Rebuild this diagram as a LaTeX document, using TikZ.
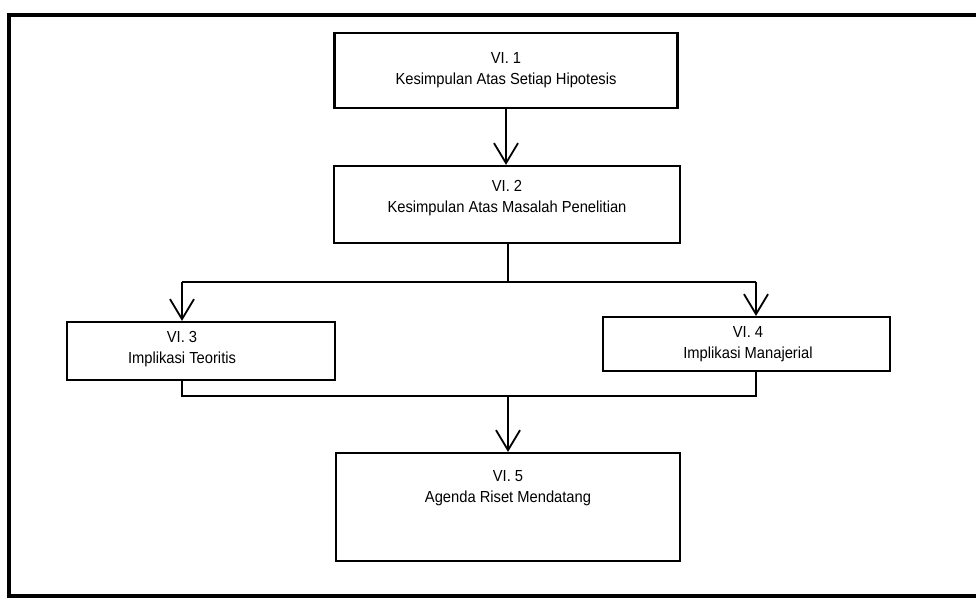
\documentclass[tikz,border=0pt]{standalone}
\usepackage{fontspec}
\setmainfont[FakeStretch=0.92]{Liberation Sans}
\usetikzlibrary{arrows.meta}
\begin{document}
\begin{tikzpicture}[x=1pt,y=-1pt,
  boxnode/.style={draw=black,line width=2.2pt,rectangle,inner sep=0pt},
  lbl/.style={font=\fontsize{16}{21}\selectfont,align=center,anchor=north,inner sep=0pt},
  conn/.style={line width=2pt,line join=miter},
  arr/.style={conn,-{Straight Barb[length=20pt,width=24pt,line width=1.8pt]}}]
\useasboundingbox (0,0) rectangle (976,610);
\draw[line width=4pt] (976,15) -- (9,15) -- (9,596) -- (976,596);
% boxes
\node[boxnode,minimum width=343pt,minimum height=75pt] (b1) at (506,70.5) {};
\node[boxnode,minimum width=346pt,minimum height=77pt] (b2) at (507,204.5) {};
\node[boxnode,minimum width=268pt,minimum height=58pt] (b3) at (201,351) {};
\node[boxnode,minimum width=287pt,minimum height=54pt] (b4) at (746.5,344) {};
\node[boxnode,minimum width=344pt,minimum height=108pt] (b5) at (508,507) {};
% labels
\node[lbl] (t1) at (506,52) {VI. 1\\Kesimpulan Atas Setiap Hipotesis};
\node[lbl] (t2) at (507,180) {VI. 2\\Kesimpulan Atas Masalah Penelitian};
\node[lbl] (t3) at (182,331) {VI. 3\\Implikasi Teoritis};
\node[lbl] (t4) at (748,326) {VI. 4\\Implikasi Manajerial};
\node[lbl] (t5) at (508,470) {VI. 5\\Agenda Riset Mendatang};
% connectors
\coordinate (s2) at (508,282);
\coordinate (lt) at (182,282);
\coordinate (rt) at (756,282);
\coordinate (lb) at (182,396);
\coordinate (rb) at (756,396);
\coordinate (mb) at (508,396);
\draw[arr] (b1.south -| 506,0) -- (b2.north -| 506,0);
\draw[conn] (b2.south -| s2) -- (s2);
\draw[conn] (lt) -- (rt);
\draw[arr] (lt) -- (b3.north -| lt);
\draw[arr] (rt) -- (b4.north -| rt);
\draw[conn] (b3.south -| lb) -- (lb) -- (rb) -- (b4.south -| rb);
\draw[arr] (mb) -- (b5.north -| mb);
\end{tikzpicture}
\end{document}
